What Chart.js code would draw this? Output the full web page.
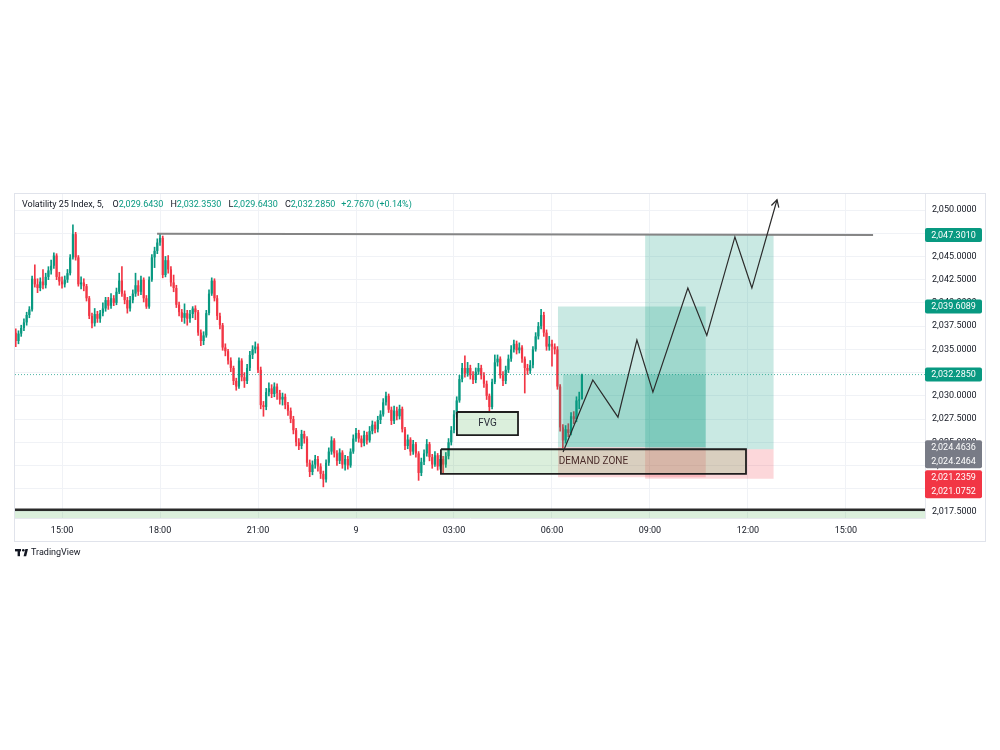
<!DOCTYPE html>
<html><head><meta charset="utf-8">
<script src="https://cdn.jsdelivr.net/npm/chart.js@4.4.1/dist/chart.umd.min.js"></script>
<style>html,body{margin:0;padding:0;background:#fff;}#wrap{width:1000px;height:750px;position:relative}</style>
</head><body><div id="wrap"><canvas id="c" width="1000" height="750"></canvas></div>
<script>
// ---------- DATA ----------
const SYMBOL_TITLE = 'Volatility 25 Index, 5,';
const FIRST_OPEN = 2036.8;
const START_HOUR = -10.4167;     // first candle 13:35 (hours relative to the 9th, 00:00)
const BAR_HOURS = 5 / 60;        // 5-minute candles
const closes = [2035.9,2036.7,2037.3,2037.9,2038.7,2039.3,2042.6,2042.0,2041.6,2042.3,
 2041.9,2042.8,2043.5,2044.0,2045.1,2042.8,2042.3,2042.0,2042.5,2043.2,
 2044.9,2047.4,2044.9,2042.0,2042.2,2041.8,2040.5,2038.6,2037.8,2038.8,
 2038.3,2038.9,2039.4,2040.3,2039.7,2040.5,2040.0,2041.2,2042.4,2041.0,
 2040.3,2039.4,2040.3,2041.0,2041.9,2041.2,2042.5,2040.5,2039.6,2042.5,
 2044.9,2045.6,2046.5,2047.0,2043.0,2044.6,2043.6,2042.2,2041.6,2039.8,
 2039.0,2038.4,2038.9,2038.3,2038.8,2039.4,2039.0,2036.8,2035.9,2036.5,
 2038.9,2041.0,2042.4,2040.5,2038.6,2037.6,2035.2,2034.8,2033.8,2033.0,
 2031.6,2031.0,2033.8,2032.0,2031.6,2033.0,2034.4,2035.0,2035.3,2032.8,
 2029.0,2028.8,2030.4,2030.8,2030.2,2031.0,2030.3,2029.6,2029.9,2029.0,
 2028.4,2027.5,2026.3,2025.0,2024.6,2025.9,2025.4,2022.8,2021.8,2022.6,
 2023.2,2022.4,2021.6,2021.0,2022.8,2024.0,2025.2,2023.8,2023.0,2023.9,
 2022.6,2023.2,2022.5,2024.0,2025.4,2026.0,2025.4,2024.9,2025.8,2025.2,
 2026.2,2026.9,2026.4,2027.4,2028.0,2029.3,2030.0,2028.5,2027.3,2028.4,
 2027.8,2028.6,2026.4,2024.6,2025.3,2024.0,2024.8,2023.8,2021.7,2022.9,
 2023.8,2024.8,2023.4,2022.6,2023.6,2022.4,2023.2,2022.6,2023.5,2025.0,
 2026.3,2028.0,2029.5,2031.8,2033.0,2032.4,2033.0,2032.2,2031.7,2032.6,
 2033.0,2032.2,2031.3,2030.0,2028.8,2031.5,2033.6,2034.0,2032.2,2031.6,
 2032.8,2034.0,2035.0,2035.6,2034.9,2035.2,2034.0,2033.0,2032.7,2033.3,
 2035.0,2036.4,2037.5,2038.7,2036.8,2035.3,2035.6,2035.3,2035.0,2031.0,
 2026.6,2025.2,2026.4,2026.0,2027.8,2027.5,2029.5,2029.518,2032.285];
const highs = [2037.2,2037.0,2037.6,2038.3,2039.0,2039.6,2042.9,2044.1,2042.6,2042.7,
 2043.6,2043.2,2043.9,2044.6,2045.4,2045.3,2043.3,2042.8,2042.9,2043.6,
 2045.2,2048.4,2047.6,2045.1,2042.8,2042.6,2042.0,2040.7,2038.9,2039.4,
 2039.1,2039.2,2040.0,2040.6,2040.6,2041.0,2040.8,2041.6,2043.2,2043.9,
 2041.3,2040.6,2040.7,2041.4,2043.2,2042.4,2042.9,2042.7,2040.8,2042.8,
 2045.2,2046.0,2046.9,2047.5,2047.2,2045.0,2045.1,2043.9,2043.0,2041.9,
 2040.1,2039.3,2039.9,2039.2,2039.2,2039.6,2039.7,2039.2,2037.1,2036.9,
 2039.2,2041.4,2042.7,2042.6,2040.8,2038.9,2037.8,2035.6,2035.0,2034.1,
 2033.2,2031.9,2034.1,2034.0,2032.5,2033.4,2034.8,2035.4,2035.8,2035.6,
 2033.1,2029.4,2030.8,2031.4,2031.2,2031.4,2031.3,2030.6,2030.3,2030.2,
 2029.3,2028.7,2027.8,2026.5,2025.4,2026.3,2026.2,2025.6,2023.1,2023.0,
 2023.6,2023.5,2022.7,2021.9,2023.1,2024.4,2025.6,2025.4,2024.1,2024.3,
 2024.1,2023.6,2023.5,2024.3,2025.8,2026.5,2026.3,2025.7,2026.2,2026.1,
 2026.7,2027.3,2027.2,2027.8,2028.4,2029.7,2030.4,2030.2,2028.8,2028.9,
 2028.8,2029.0,2028.8,2026.6,2025.8,2025.5,2025.2,2025.0,2024.0,2023.3,
 2024.2,2025.3,2025.0,2023.7,2024.0,2023.8,2023.6,2023.5,2023.9,2025.4,
 2026.7,2028.4,2029.9,2032.2,2033.5,2034.3,2033.6,2033.3,2032.6,2033.0,
 2033.5,2033.3,2032.5,2031.6,2030.2,2031.8,2034.4,2034.4,2034.2,2032.6,
 2033.2,2034.4,2035.4,2036.0,2035.9,2035.7,2035.4,2034.2,2033.4,2033.8,
 2035.3,2036.8,2037.9,2039.3,2039.0,2037.1,2036.4,2036.0,2035.6,2035.3,
 2031.2,2026.9,2026.8,2027.0,2028.2,2028.3,2029.9,2030.4,2032.353];
const lows = [2035.3,2035.6,2036.4,2037.0,2037.6,2038.4,2039.1,2041.7,2041.1,2041.3,
 2041.5,2041.6,2042.5,2043.1,2043.7,2042.5,2041.9,2041.6,2041.7,2042.2,
 2043.0,2044.7,2044.6,2041.8,2041.5,2041.3,2040.2,2038.3,2037.3,2037.5,
 2037.9,2037.9,2038.6,2039.1,2039.3,2039.4,2039.7,2039.8,2041.0,2040.7,
 2039.9,2038.9,2039.1,2040.0,2040.7,2040.8,2040.9,2040.1,2039.4,2039.4,
 2042.3,2043.8,2045.3,2046.2,2042.7,2042.8,2043.2,2041.8,2041.2,2039.5,
 2038.6,2038.0,2037.8,2037.6,2037.9,2038.4,2038.2,2036.5,2035.4,2035.5,
 2036.3,2038.7,2040.8,2040.2,2038.2,2037.2,2034.9,2034.3,2033.4,2032.6,
 2031.2,2030.6,2030.8,2031.6,2030.9,2031.3,2032.7,2034.0,2034.6,2032.5,
 2028.6,2027.8,2028.5,2030.0,2029.8,2029.9,2029.6,2029.1,2029.0,2028.6,
 2027.9,2027.1,2025.9,2024.6,2024.2,2024.3,2024.9,2022.4,2021.3,2021.5,
 2022.2,2021.9,2021.1,2020.2,2020.7,2022.5,2023.7,2023.4,2022.5,2022.7,
 2022.2,2022.0,2022.1,2022.3,2023.8,2025.1,2025.0,2024.5,2024.6,2024.8,
 2025.0,2025.9,2026.0,2026.1,2027.0,2027.8,2029.0,2028.2,2026.9,2027.0,
 2027.4,2027.5,2026.1,2024.2,2024.3,2023.6,2023.7,2023.4,2020.9,2021.4,
 2022.6,2023.5,2023.0,2022.2,2022.4,2022.0,2022.1,2021.7,2022.3,2023.2,
 2024.7,2026.0,2027.7,2029.3,2031.5,2032.0,2032.1,2031.8,2031.3,2031.4,
 2032.3,2031.8,2030.9,2029.6,2028.4,2028.6,2031.3,2033.2,2031.9,2031.1,
 2031.3,2032.5,2033.7,2034.7,2034.5,2034.6,2033.6,2030.3,2032.3,2032.4,
 2033.0,2034.8,2036.1,2037.2,2036.4,2034.9,2034.9,2033.2,2034.5,2030.7,
 2026.2,2024.4,2024.9,2025.6,2025.8,2027.0,2027.2,2028.6,2029.643];
const LAST_BAR = {open: 2029.643, high: 2032.353, low: 2029.643, close: 2032.285, change: 2.767, pct: 0.14};

const timeTicks = [-9, -6, -3, 0, 3, 6, 9, 12, 15];
const timeTickLabels = ['15:00', '18:00', '21:00', '9', '03:00', '06:00', '09:00', '12:00', '15:00'];
const priceTicks = [2017.5, 2020, 2022.5, 2025, 2027.5, 2030, 2032.5, 2035, 2037.5, 2040, 2042.5, 2045, 2047.5, 2050];
const X_RANGE = [-10.44, 17.42];
const Y_RANGE = [2016.85, 2051.83];

// drawings
const resistanceLine = [{x: -6.09, y: 2047.45}, {x: 15.83, y: 2047.30}];
const projectionPath = [{x: 6.34, y: 2023.95}, {x: 7.25, y: 2031.7}, {x: 8.02, y: 2027.7}, {x: 8.60, y: 2036.0},
  {x: 9.09, y: 2030.4}, {x: 10.16, y: 2041.6}, {x: 10.74, y: 2036.5}, {x: 11.60, y: 2047.1},
  {x: 12.12, y: 2041.6}, {x: 12.89, y: 2051.1}];
const demandZone = {x1: 2.60, x2: 11.94, top: 2024.25, bottom: 2021.6, label: 'DEMAND ZONE'};
const fvgZone = {x1: 3.09, x2: 4.96, top: 2028.26, bottom: 2025.78, label: 'FVG'};
const longPos1 = {x1: 6.18, x2: 10.71, entry: 2024.4636, target: 2039.6089, stop: 2021.2359, openFrom: 6.34};
const longPos2 = {x1: 8.85, x2: 12.79, entry: 2024.2464, target: 2047.3010, stop: 2021.0752};
const currentPrice = 2032.285;
const floorLevel = 2017.75;

// ---------- COLORS ----------
const UP = '#089981', DOWN = '#f23645';
const PROFIT = 'rgba(8,153,129,0.22)', LOSS = 'rgba(242,54,69,0.2)', ZONE = 'rgba(76,175,80,0.2)';

const fmt = v => v.toLocaleString('en-US', {minimumFractionDigits: 4, maximumFractionDigits: 4});

// ---------- BUILD CANDLES ----------
const opens = closes.map((c, i) => i === 0 ? FIRST_OPEN : closes[i - 1]);
opens[opens.length - 1] = LAST_BAR.open;
const times = closes.map((c, i) => START_HOUR + i * BAR_HOURS);
const colors = closes.map((c, i) => c >= opens[i] ? UP : DOWN);
const wickData = closes.map((c, i) => ({x: times[i], y: [lows[i], highs[i]]}));
const bodyData = closes.map((c, i) => ({x: times[i], y: [Math.min(opens[i], c), Math.max(opens[i], c)]}));

function rectFill(x1, x2, top, bottom, color, order) {
  return {type: 'line', data: [{x: x1, y: top}, {x: x2, y: top}], fill: {value: bottom},
    backgroundColor: color, borderWidth: 0, pointRadius: 0, order};
}
function rectBorder(z, order) {
  return {type: 'line', data: [{x: z.x1, y: z.top}, {x: z.x2, y: z.top}, {x: z.x2, y: z.bottom}, {x: z.x1, y: z.bottom}, {x: z.x1, y: z.top}],
    borderColor: '#1e1e1e', borderWidth: 1.8, pointRadius: 0, fill: false, order, borderJoinStyle: 'miter'};
}
function hLine(data, color, width, dash, order) {
  return {type: 'line', data, borderColor: color, borderWidth: width, borderDash: dash || [], pointRadius: 0, fill: false, order};
}

const datasets = [
  {type: 'bar', data: wickData, backgroundColor: colors, barThickness: 1, grouped: false, order: 30},
  {type: 'bar', data: bodyData, backgroundColor: colors, barPercentage: 0.8, categoryPercentage: 1, grouped: false, minBarLength: 1, order: 29},
  rectFill(X_RANGE[0], X_RANGE[1], floorLevel, Y_RANGE[0], ZONE, 20),
  rectFill(longPos1.x1, longPos1.x2, longPos1.target, longPos1.entry, PROFIT, 15),
  rectFill(longPos1.openFrom, longPos1.x2, currentPrice, longPos1.entry, PROFIT, 14),
  rectFill(longPos1.x1, longPos1.x2, longPos1.entry, longPos1.stop, LOSS, 13),
  rectFill(longPos2.x1, longPos2.x2, longPos2.target, longPos2.entry, PROFIT, 12),
  rectFill(longPos2.x1, longPos2.x2, longPos2.entry, longPos2.stop, LOSS, 11),
  rectFill(demandZone.x1, demandZone.x2, demandZone.top, demandZone.bottom, ZONE, 9),
  rectFill(fvgZone.x1, fvgZone.x2, fvgZone.top, fvgZone.bottom, ZONE, 9),
  rectBorder(demandZone, 8),
  rectBorder(fvgZone, 8),
  hLine([{x: X_RANGE[0], y: floorLevel}, {x: X_RANGE[1], y: floorLevel}], '#2a2a2a', 2.5, null, 7),
  hLine(resistanceLine, '#858585', 2, null, 6),
  hLine([{x: X_RANGE[0], y: currentPrice}, {x: X_RANGE[1], y: currentPrice}], 'rgba(8,153,129,0.7)', 1, [1, 2], 5),
  hLine(projectionPath, '#2b2b2b', 1.2, null, 1)
];

// ---------- OVERLAY PLUGIN ----------
const overlay = {
  id: 'overlay',
  afterDatasetsDraw(chart) {
    const {ctx, scales: {x, y}} = chart;
    ctx.save();
    // arrow head on projection path
    const n = projectionPath.length;
    const ax = x.getPixelForValue(projectionPath[n - 2].x), ay = y.getPixelForValue(projectionPath[n - 2].y);
    const bx = x.getPixelForValue(projectionPath[n - 1].x), by = y.getPixelForValue(projectionPath[n - 1].y);
    const ang = Math.atan2(by - ay, bx - ax);
    ctx.strokeStyle = '#2b2b2b'; ctx.lineWidth = 1.2;
    ctx.beginPath();
    ctx.moveTo(bx - 8 * Math.cos(ang - 0.5), by - 8 * Math.sin(ang - 0.5));
    ctx.lineTo(bx, by);
    ctx.lineTo(bx - 8 * Math.cos(ang + 0.5), by - 8 * Math.sin(ang + 0.5));
    ctx.stroke();
    // zone labels
    ctx.textAlign = 'center'; ctx.textBaseline = 'middle';
    ctx.font = '10px Roboto';
    ctx.fillStyle = '#4a2c2a';
    ctx.fillText(demandZone.label, x.getPixelForValue((demandZone.x1 + demandZone.x2) / 2), y.getPixelForValue((demandZone.top + demandZone.bottom) / 2));
    ctx.fillStyle = '#2a2e39';
    ctx.fillText(fvgZone.label, x.getPixelForValue((fvgZone.x1 + fvgZone.x2) / 2), y.getPixelForValue((fvgZone.top + fvgZone.bottom) / 2));
    ctx.restore();
  },
  afterDraw(chart) {
    const {ctx, chartArea: ca, scales: {y}} = chart;
    ctx.save();
    // frame
    ctx.strokeStyle = '#e0e3eb'; ctx.lineWidth = 1;
    ctx.strokeRect(14.5, 193.5, 971, 348);
    // price badges
    const bx = ca.right, bw = 57;
    ctx.font = '9px Roboto'; ctx.textAlign = 'center'; ctx.textBaseline = 'middle';
    function badge(vals, color) {
      const ys = vals.map(v => y.getPixelForValue(v));
      const lineH = 14;
      let cy = ys.reduce((a, b) => a + b, 0) / ys.length;
      const h = lineH * vals.length;
      let top = cy - h / 2;
      if (vals.length > 1) top = Math.min(...ys) - 7;
      ctx.fillStyle = color;
      ctx.beginPath(); ctx.roundRect(bx, top, bw, h, 2); ctx.fill();
      ctx.fillStyle = '#ffffff';
      vals.forEach((v, i) => ctx.fillText(fmt(v), bx + bw / 2, top + lineH * i + lineH / 2 + 0.5));
    }
    badge([longPos2.target], UP);
    badge([longPos1.target], UP);
    badge([currentPrice], UP);
    badge([longPos1.entry, longPos2.entry], '#787b86');
    badge([longPos1.stop, longPos2.stop], DOWN);
    // title legend
    ctx.textAlign = 'left'; ctx.textBaseline = 'middle'; ctx.font = '9px Roboto';
    let tx = 22; const ty = 205;
    const parts = [[SYMBOL_TITLE, '#131722', 9], ['O', '#131722', 0], [fmt(LAST_BAR.open), UP, 7],
      ['H', '#131722', 0], [fmt(LAST_BAR.high), UP, 7], ['L', '#131722', 0], [fmt(LAST_BAR.low), UP, 7],
      ['C', '#131722', 0], [fmt(LAST_BAR.close), UP, 6],
      ['+' + LAST_BAR.change.toFixed(4) + ' (+' + LAST_BAR.pct.toFixed(2) + '%)', UP, 0]];
    parts.forEach(([t, c, gap]) => { ctx.fillStyle = c; ctx.fillText(t, tx, ty); tx += ctx.measureText(t).width + gap; });
    // TradingView logo
    ctx.fillStyle = '#131722';
    ctx.fillRect(15, 549, 6, 2.4); ctx.fillRect(17.6, 549, 2.4, 7.2);
    ctx.beginPath(); ctx.arc(23.3, 550.3, 1.3, 0, Math.PI * 2); ctx.fill();
    ctx.beginPath(); ctx.moveTo(25.4, 549); ctx.lineTo(28, 549); ctx.lineTo(26.2, 556.2); ctx.lineTo(23.6, 556.2); ctx.closePath(); ctx.fill();
    ctx.font = '9px Roboto'; ctx.fillText('TradingView', 31, 553);
    ctx.restore();
  }
};

new Chart(document.getElementById('c'), {
  type: 'bar',
  data: {datasets},
  options: {
    responsive: false, animation: false, devicePixelRatio: 1,
    layout: {padding: {left: 15, top: 193, right: 15, bottom: 209}},
    plugins: {legend: {display: false}, tooltip: {enabled: false}},
    scales: {
      x: {type: 'linear', min: X_RANGE[0], max: X_RANGE[1], offset: false,
        grid: {color: '#f0f2f6', drawTicks: false, offset: false},
        border: {color: '#e6e8ee'},
        afterBuildTicks: s => { s.ticks = timeTicks.map(v => ({value: v})); },
        afterFit: s => { s.height = 23; },
        ticks: {autoSkip: false, maxRotation: 0, padding: 7, color: '#131722', font: {family: 'Roboto', size: 9},
          callback: v => timeTickLabels[timeTicks.indexOf(v)]}},
      y: {type: 'linear', position: 'right', min: Y_RANGE[0], max: Y_RANGE[1],
        grid: {color: '#f0f2f6', drawTicks: false},
        border: {color: '#e6e8ee'},
        afterBuildTicks: s => { s.ticks = priceTicks.map(v => ({value: v})); },
        afterFit: s => { s.width = 60; },
        ticks: {padding: 7, color: '#131722', font: {family: 'Roboto', size: 9}, callback: v => fmt(v)}}
    }
  },
  plugins: [overlay]
});
</script></body></html>
